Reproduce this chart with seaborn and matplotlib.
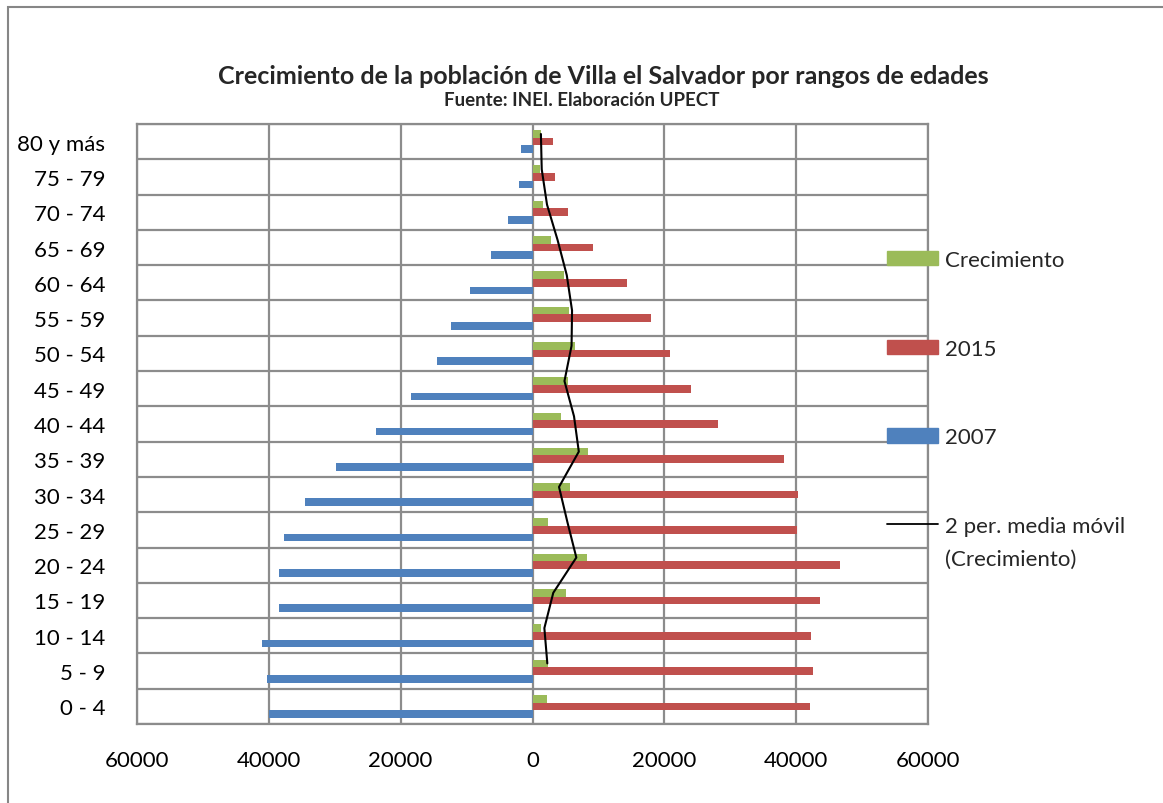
import matplotlib
matplotlib.use("Agg")
import matplotlib.pyplot as plt
import matplotlib.patches as mpatches
from matplotlib.lines import Line2D
from matplotlib.ticker import FuncFormatter, FixedLocator
import seaborn as sns
import pandas as pd
import numpy as np

# ---- data (top to bottom as drawn) ----
grupos = ["80 y más", "75 - 79", "70 - 74", "65 - 69", "60 - 64", "55 - 59",
          "50 - 54", "45 - 49", "40 - 44", "35 - 39", "30 - 34", "25 - 29",
          "20 - 24", "15 - 19", "10 - 14", "5 - 9", "0 - 4"]
pob_2007 = [1700, 2000, 3650, 6250, 9500, 12400, 14500, 18400, 23700, 29750,
            34450, 37750, 38400, 38500, 41050, 40250, 39950]
pob_2015 = [3100, 3350, 5350, 9250, 14400, 18050, 20900, 24000, 28100, 38100,
            40250, 40150, 46700, 43550, 42300, 42550, 42100]
crecimiento = [1350, 1200, 1600, 2800, 4800, 5600, 6400, 5450, 4250, 8350,
               5700, 2350, 8250, 5050, 1250, 2350, 2150]
series = ["Crecimiento", "2015", "2007"]
colores = {"Crecimiento": "#9BBB59", "2015": "#C0504D", "2007": "#4F81BD"}

sns.set_theme(style="white")
plt.rcParams["font.family"] = ["Lato", "DejaVu Sans"]

df = pd.DataFrame({
    "grupo": grupos * 3,
    "serie": ["Crecimiento"] * len(grupos) + ["2015"] * len(grupos) + ["2007"] * len(grupos),
    "valor": crecimiento + pob_2015 + [-v for v in pob_2007],
})

W, H = 1163, 804
fig = plt.figure(figsize=(W / 100, H / 100), dpi=100)
ax = fig.add_axes([137 / W, 1 - 725 / H, (928 - 137) / W, (725 - 125) / H])

bar_width = 0.65
sns.barplot(data=df, y="grupo", x="valor", hue="serie", hue_order=series,
            order=grupos, palette=colores, width=bar_width, orient="h",
            linewidth=0, saturation=1, legend=False, ax=ax)

# 2-period moving average of Crecimiento, drawn at the Crecimiento bar centres
n = len(grupos)
crec_bottom_up = pd.Series(crecimiento[::-1])
ma_bottom_up = crec_bottom_up.rolling(2).mean()
offset = -bar_width / 3
ypos = [(n - 1 - i) + offset for i in range(n)]  # bottom-up index -> axis position
ma_df = pd.DataFrame({"x": ma_bottom_up.values, "y": ypos}).dropna()
sns.lineplot(data=ma_df, x="x", y="y", sort=False, estimator=None,
             color="black", linewidth=1.5, ax=ax)

ax.set_xlim(-60000, 60000)
ax.set_ylim(n - 0.5, -0.5)
ax.xaxis.set_major_locator(FixedLocator(np.arange(-60000, 60001, 20000)))
ax.xaxis.set_major_formatter(FuncFormatter(lambda v, p: f"{abs(int(v))}"))
ax.yaxis.set_minor_locator(FixedLocator(np.arange(-0.5, n, 1.0)))
grid_c = "#8C8C8C"
ax.grid(True, axis="x", which="major", color=grid_c, linewidth=1.6)
ax.grid(True, axis="y", which="minor", color=grid_c, linewidth=1.6)
ax.set_axisbelow(True)
for s in ax.spines.values():
    s.set_color(grid_c)
    s.set_linewidth(1.6)
ax.tick_params(axis="both", which="both", length=0, labelsize=16, colors="black")
ax.tick_params(axis="x", pad=19)
ax.tick_params(axis="y", pad=23)
ax.set_xlabel("")
ax.set_ylabel("")

# titles
fig.text(603 / W, 1 - 76 / H, "Crecimiento de la población de Villa el Salvador por rangos de edades",
         ha="center", va="center", fontsize=18, fontweight="bold")
fig.text(582 / W, 1 - 101 / H, "Fuente: INEI. Elaboración UPECT",
         ha="center", va="center", fontsize=13.5, fontweight="bold")

# legend
handles = [mpatches.Patch(color=colores["Crecimiento"]),
           mpatches.Patch(color=colores["2015"]),
           mpatches.Patch(color=colores["2007"]),
           Line2D([], [], color="black", linewidth=1.3)]
labels = ["Crecimiento", "2015", "2007", "2 per. media móvil"]
leg = fig.legend(handles, labels, loc="upper left", bbox_to_anchor=(887 / W, 1 - 251 / H),
                 frameon=False, fontsize=16, handlelength=2.3, handleheight=0.63,
                 handletextpad=0.3, labelspacing=3.09, borderaxespad=0, borderpad=0)
fig.text(945 / W, 1 - 560 / H, "(Crecimiento)", ha="left", va="center", fontsize=16)

# outer chart border (left and top edges visible)
fig.add_artist(mpatches.Rectangle((7.5 / W, -0.1), 1.2, 1 - 7.5 / H + 0.1,
                                  transform=fig.transFigure, fill=False,
                                  edgecolor="#868686", linewidth=1.5))

fig.savefig("out.png", dpi=100)
